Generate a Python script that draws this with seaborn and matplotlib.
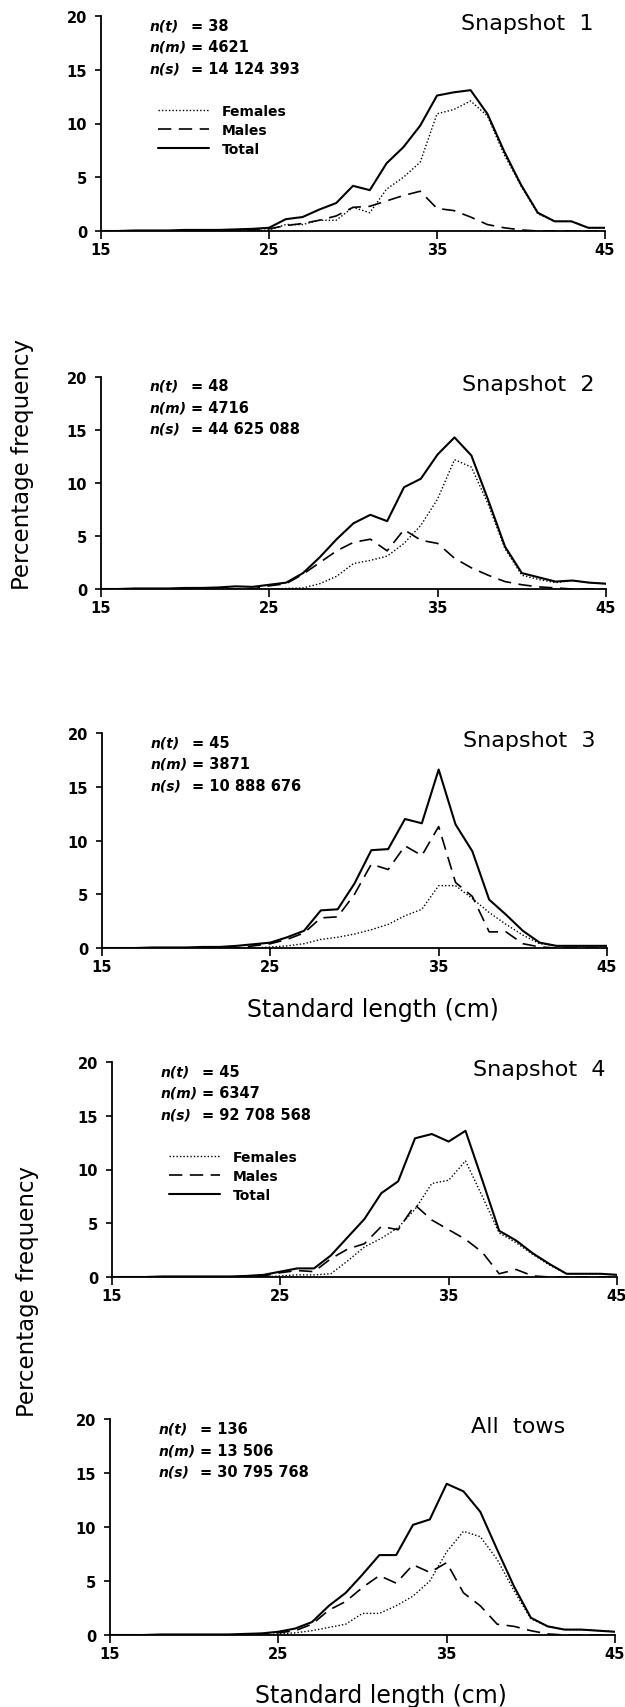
import numpy as np
import pandas as pd
import matplotlib.pyplot as plt
import seaborn as sns
from matplotlib.lines import Line2D

sns.set_style("ticks")
plt.rcParams["font.family"] = ["DejaVu Sans"]
plt.rcParams.update({"text.color": "black", "axes.labelcolor": "black",
                     "xtick.color": "black", "ytick.color": "black"})

# ------------------------------------------------------------------
# data: percentage frequency by 1-cm length class (15 .. 45 cm)
# ------------------------------------------------------------------
lengths = list(range(15, 46))

total_1 = [0, 0, 0.05, 0.05, 0.05, 0.1, 0.1, 0.1, 0.15, 0.2, 0.3, 1.1, 1.3, 2.0, 2.6, 4.2,
           3.8, 6.3, 7.8, 9.8, 12.6, 12.9, 13.1, 10.9, 7.4, 4.3, 1.7, 0.9, 0.9, 0.3, 0.3]
females_1 = [0, 0, 0, 0, 0, 0, 0, 0, 0, 0, 0.1, 0.6, 0.6, 1.0, 1.0, 2.2,
             1.7, 3.9, 5.0, 6.4, 10.9, 11.3, 12.1, 10.7, 7.1, 4.2, 1.6, 0.9, 0.9, 0.3, 0.3]
males_1 = [0, 0, 0, 0, 0, 0, 0, 0, 0, 0.1, 0.2, 0.5, 0.7, 1.0, 1.4, 2.2,
           2.3, 2.8, 3.3, 3.7, 2.1, 1.9, 1.3, 0.6, 0.3, 0.1, 0, 0, 0, 0, 0]

total_2 = [0, 0, 0.05, 0.05, 0.05, 0.1, 0.1, 0.15, 0.25, 0.2, 0.4, 0.6, 1.5, 3.0, 4.7, 6.2,
           7.0, 6.4, 9.6, 10.4, 12.7, 14.3, 12.6, 8.4, 4.0, 1.5, 1.1, 0.7, 0.8, 0.6, 0.5]
females_2 = [0, 0, 0, 0, 0, 0, 0, 0, 0, 0, 0, 0.05, 0.1, 0.5, 1.2, 2.4,
             2.7, 3.1, 4.3, 6.0, 8.5, 12.2, 11.5, 8.0, 3.8, 1.3, 0.9, 0.6, 0.8, 0.6, 0.5]
males_2 = [0, 0, 0, 0, 0, 0, 0, 0, 0, 0, 0.3, 0.5, 1.4, 2.5, 3.6, 4.4,
           4.7, 3.6, 5.6, 4.6, 4.3, 2.9, 2.0, 1.3, 0.7, 0.4, 0.2, 0.1, 0, 0, 0]

total_3 = [0, 0, 0, 0.05, 0.05, 0.05, 0.1, 0.1, 0.2, 0.35, 0.5, 1.0, 1.6, 3.5, 3.6, 6.0,
           9.1, 9.2, 12.0, 11.6, 16.6, 11.5, 9.0, 4.5, 3.1, 1.6, 0.5, 0.2, 0.2, 0.2, 0.2]
females_3 = [0, 0, 0, 0, 0, 0, 0, 0, 0, 0, 0.1, 0.2, 0.4, 0.8, 1.0, 1.3,
             1.7, 2.2, 3.0, 3.6, 5.8, 5.8, 4.6, 3.3, 2.2, 1.2, 0.4, 0.2, 0.2, 0.2, 0.2]
males_3 = [0, 0, 0, 0, 0, 0, 0, 0, 0, 0.2, 0.4, 0.8, 1.4, 2.8, 2.9, 5.0,
           7.8, 7.3, 9.5, 8.6, 11.3, 6.1, 4.8, 1.5, 1.5, 0.4, 0.1, 0, 0, 0, 0]

total_4 = [0, 0, 0, 0.05, 0.05, 0.05, 0.05, 0.05, 0.1, 0.2, 0.5, 0.8, 0.8, 2.0, 3.7, 5.4,
           7.8, 8.9, 12.9, 13.3, 12.6, 13.6, 9.0, 4.3, 3.4, 2.2, 1.2, 0.3, 0.3, 0.3, 0.2]
females_4 = [0, 0, 0, 0, 0, 0, 0, 0, 0, 0, 0.1, 0.2, 0.2, 0.3, 1.5, 2.8,
             3.6, 4.6, 6.3, 8.7, 9.0, 10.8, 7.5, 4.1, 3.2, 2.1, 1.1, 0.3, 0.3, 0.3, 0.2]
males_4 = [0, 0, 0, 0, 0, 0, 0, 0, 0, 0.1, 0.4, 0.6, 0.5, 1.7, 2.6, 3.1,
           4.7, 4.4, 6.7, 5.3, 4.4, 3.5, 2.3, 0.3, 0.7, 0.1, 0, 0, 0, 0, 0]

total_5 = [0, 0, 0, 0.05, 0.05, 0.05, 0.05, 0.05, 0.1, 0.15, 0.3, 0.6, 1.2, 2.7, 3.9, 5.6,
           7.4, 7.4, 10.2, 10.7, 14.0, 13.3, 11.4, 7.9, 4.5, 1.6, 0.8, 0.5, 0.5, 0.4, 0.3]
females_5 = [0, 0, 0, 0, 0, 0, 0, 0, 0, 0, 0.1, 0.2, 0.4, 0.7, 1.0, 2.0,
             2.0, 2.7, 3.6, 5.0, 7.7, 9.6, 9.1, 7.0, 4.1, 1.5, 0.8, 0.5, 0.5, 0.4, 0.3]
males_5 = [0, 0, 0, 0, 0, 0, 0, 0, 0, 0.1, 0.2, 0.4, 1.0, 2.3, 3.1, 4.4,
           5.5, 4.8, 6.5, 5.8, 6.7, 3.9, 2.7, 1.0, 0.8, 0.4, 0.1, 0, 0, 0, 0]

titles = ["Snapshot  1", "Snapshot  2", "Snapshot  3", "Snapshot  4", "All  tows"]
stat_names = ["n(t)", "n(m)", "n(s)"]
stats = [["38", "4621", "14 124 393"],
         ["48", "4716", "44 625 088"],
         ["45", "3871", "10 888 676"],
         ["45", "6347", "92 708 568"],
         ["136", "13 506", "30 795 768"]]
series = [(females_1, males_1, total_1), (females_2, males_2, total_2),
          (females_3, males_3, total_3), (females_4, males_4, total_4),
          (females_5, males_5, total_5)]
sexes = ["Females", "Males", "Total"]

# ------------------------------------------------------------------
# layout (pixel boxes of each panel: left, top, right, bottom)
# ------------------------------------------------------------------
W, H = 625, 1708
boxes = [(101, 17, 605, 232), (101, 378, 606, 590), (102, 734, 607, 949),
         (112, 1063, 617, 1278), (110, 1420, 615, 1636)]
legend_panels = [0, 3]

dashes = {"Females": (1, 1.5), "Males": (8, 4.5), "Total": ""}
widths = {"Females": 1.0, "Males": 1.2, "Total": 1.5}

fig = plt.figure(figsize=(W / 100, H / 100), dpi=100)

for i, (l, t, r, b) in enumerate(boxes):
    ax = fig.add_axes([l / W, 1 - b / H, (r - l) / W, (b - t) / H])
    fem, mal, tot = series[i]
    df = pd.DataFrame({
        "length": lengths * 3,
        "pct": fem + mal + tot,
        "sex": np.repeat(sexes, len(lengths)),
    })
    sns.lineplot(data=df, x="length", y="pct", style="sex", size="sex",
                 style_order=sexes, size_order=sexes, dashes=dashes,
                 sizes=widths, color="black", legend=False, ax=ax)

    ax.set_xlim(15, 45)
    ax.set_ylim(0, 20)
    ax.set_xticks([15, 25, 35, 45])
    ax.set_yticks([0, 5, 10, 15, 20])
    ax.set_xlabel("")
    ax.set_ylabel("")
    sns.despine(ax=ax)
    for s in ["left", "bottom"]:
        ax.spines[s].set_linewidth(1.3)
        ax.spines[s].set_color("black")
    ax.tick_params(axis="x", length=5.5, width=1.2, pad=2.5, labelsize=10.5)
    ax.tick_params(axis="y", length=4, width=1.2, pad=6, labelsize=10.5)
    for lab in ax.get_xticklabels() + ax.get_yticklabels():
        lab.set_fontweight("bold")

    ax.text(0.714, 1.012, titles[i], transform=ax.transAxes, fontsize=16,
            ha="left", va="top")
    for k, (name, val) in enumerate(zip(stat_names, stats[i])):
        y = [0.958, 0.856, 0.756][k]
        ax.text(0.097, y, name, transform=ax.transAxes, fontsize=10,
                style="italic", weight="bold", va="center")
        ax.text(0.178, y, "= " + val, transform=ax.transAxes, fontsize=10.5,
                weight="bold", va="center")

    if i in legend_panels:
        handles = [Line2D([], [], color="black", lw=widths["Females"], dashes=dashes["Females"]),
                   Line2D([], [], color="black", lw=widths["Males"], dashes=dashes["Males"]),
                   Line2D([], [], color="black", lw=widths["Total"])]
        ax.legend(handles, sexes, loc="upper left", bbox_to_anchor=(0.113, 0.592),
                  frameon=False, borderpad=0, borderaxespad=0, handlelength=3.7,
                  handletextpad=0.9, labelspacing=0.36,
                  prop={"size": 10, "weight": "bold"})

fig.text(23 / W, 1 - 464 / H, "Percentage frequency", rotation=90,
         fontsize=16.5, ha="center", va="center")
fig.text(28 / W, 1 - 1292 / H, "Percentage frequency", rotation=90,
         fontsize=16.5, ha="center", va="center")
fig.text(373 / W, 1 - 1010 / H, "Standard length (cm)", fontsize=17,
         ha="center", va="center")
fig.text(381 / W, 1 - 1696 / H, "Standard length (cm)", fontsize=17,
         ha="center", va="center")

fig.savefig("out.png", dpi=100)
